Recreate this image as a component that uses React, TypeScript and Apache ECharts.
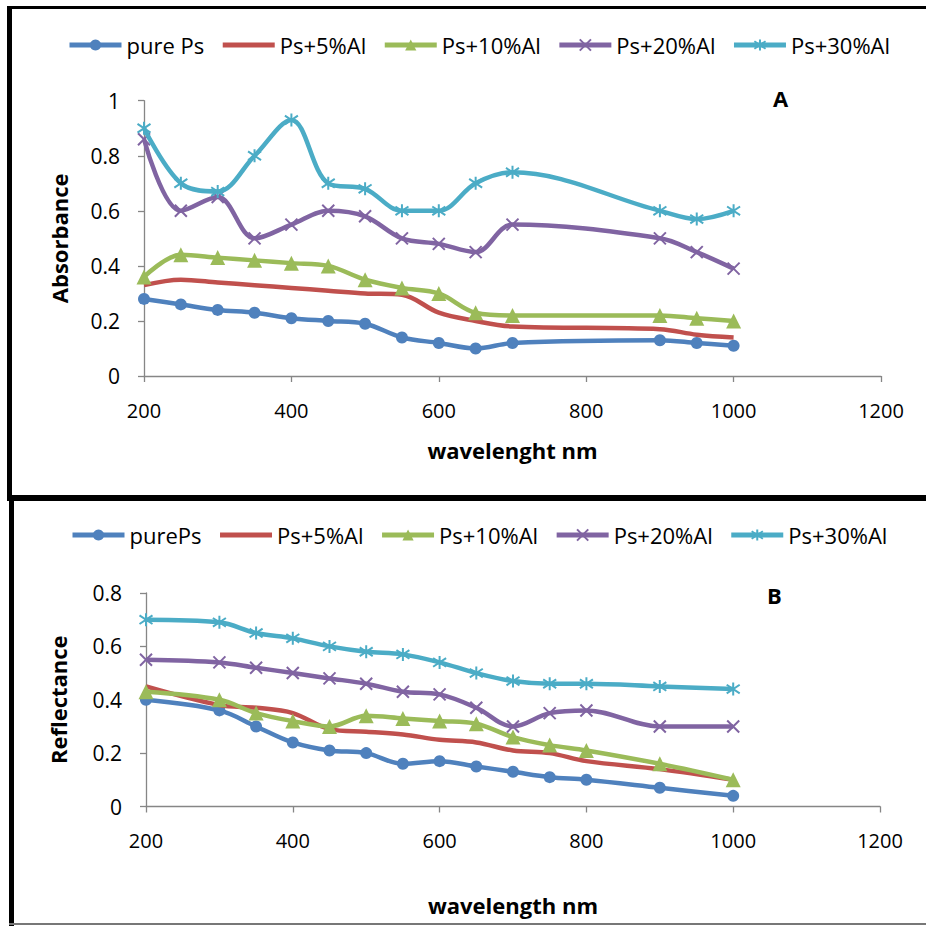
import React, { useEffect, useRef } from "react";
import * as echarts from "echarts";

// ---- Data (chart A: absorbance) ----
const wavelengthA = [200, 250, 300, 350, 400, 450, 500, 550, 600, 650, 700, 900, 950, 1000];
const absPurePs = [0.28, 0.26, 0.24, 0.23, 0.21, 0.2, 0.19, 0.14, 0.12, 0.1, 0.12, 0.13, 0.12, 0.11];
const absPs5Al = [0.33, 0.35, 0.34, 0.33, 0.32, 0.31, 0.3, 0.295, 0.23, 0.2, 0.18, 0.17, 0.15, 0.14];
const absPs10Al = [0.36, 0.44, 0.43, 0.42, 0.41, 0.4, 0.35, 0.32, 0.3, 0.23, 0.22, 0.22, 0.21, 0.2];
const absPs20Al = [0.86, 0.6, 0.65, 0.5, 0.55, 0.6, 0.58, 0.5, 0.48, 0.45, 0.55, 0.5, 0.45, 0.39];
const absPs30Al = [0.9, 0.7, 0.67, 0.8, 0.93, 0.7, 0.68, 0.6, 0.6, 0.7, 0.74, 0.6, 0.57, 0.6];

// ---- Data (chart B: reflectance) ----
const wavelengthB = [200, 300, 350, 400, 450, 500, 550, 600, 650, 700, 750, 800, 900, 1000];
const refPurePs = [0.4, 0.36, 0.3, 0.24, 0.21, 0.2, 0.16, 0.17, 0.15, 0.13, 0.11, 0.1, 0.07, 0.04];
const refPs5Al = [0.45, 0.38, 0.37, 0.35, 0.29, 0.28, 0.27, 0.25, 0.24, 0.21, 0.2, 0.17, 0.14, 0.1];
const refPs10Al = [0.43, 0.4, 0.35, 0.32, 0.3, 0.34, 0.33, 0.32, 0.31, 0.26, 0.23, 0.21, 0.16, 0.1];
const refPs20Al = [0.55, 0.54, 0.52, 0.5, 0.48, 0.46, 0.43, 0.42, 0.37, 0.3, 0.35, 0.36, 0.3, 0.3];
const refPs30Al = [0.7, 0.69, 0.65, 0.63, 0.6, 0.58, 0.57, 0.54, 0.5, 0.47, 0.46, 0.46, 0.45, 0.44];

const namesA = ["pure Ps", "Ps+5%Al", "Ps+10%Al", "Ps+20%Al", "Ps+30%Al"];
const namesB = ["purePs", "Ps+5%Al", "Ps+10%Al", "Ps+20%Al", "Ps+30%Al"];
const xTicks = [200, 400, 600, 800, 1000, 1200];

const COLORS = ["#4F81BD", "#C0504D", "#9BBB59", "#8064A2", "#4BACC6"];
const FONT = "'Open Sans', 'Noto Sans', sans-serif";
const X_SYM = "path://M0,0L10,10M10,0L0,10";
const STAR_SYM = "path://M5,-1L5,11M0.5,1L9.5,9M9.5,1L0.5,9";

const symbolDefs = [
  { symbol: "circle", symbolSize: 12, stroke: 0, show: true },
  { symbol: "circle", symbolSize: 0, stroke: 0, show: false },
  { symbol: "triangle", symbolSize: 15, stroke: 0, show: true },
  { symbol: X_SYM, symbolSize: 12, stroke: 2, show: true },
  { symbol: STAR_SYM, symbolSize: 13, stroke: 2, show: true },
];

function pairs(xs: number[], ys: number[]) {
  return xs.map((x, i) => [x, ys[i]]);
}

function makeSeries(names: string[], xs: number[], ys: number[][], gi: number) {
  return ys.map((vals, i) => ({
    type: "line",
    name: names[i],
    xAxisIndex: gi,
    yAxisIndex: gi,
    data: pairs(xs, vals),
    smooth: 0.35,
    symbol: symbolDefs[i].symbol,
    symbolSize: symbolDefs[i].symbolSize,
    showSymbol: symbolDefs[i].show,
    lineStyle: { color: COLORS[i], width: 4.5 },
    itemStyle: {
      color: COLORS[i],
      borderColor: COLORS[i],
      borderWidth: symbolDefs[i].stroke,
    },
    z: 2 + i,
  }));
}

function legendData(names: string[]) {
  return names.map((n, i) =>
    symbolDefs[i].show ? { name: n } : { name: n, itemStyle: { opacity: 0 } }
  );
}

function xAxis(gi: number, name: string, nameGap: number) {
  return {
    type: "value",
    gridIndex: gi,
    min: 200,
    max: 1200,
    interval: 200,
    name,
    nameLocation: "middle",
    nameGap,
    nameTextStyle: { fontFamily: FONT, fontSize: 22, fontWeight: "bold", color: "#000" },
    axisLine: { show: true, lineStyle: { color: "#868686", width: 1.3 } },
    axisTick: { show: true, length: 6, lineStyle: { color: "#868686", width: 1.3 } },
    axisLabel: {
      margin: 24,
      fontFamily: FONT,
      fontSize: 20,
      color: "#000",
      formatter: (v: number) => (xTicks.includes(v) ? String(v) : ""),
    },
    splitLine: { show: false },
  };
}

function yAxis(gi: number, name: string, max: number, nameGap: number) {
  return {
    type: "value",
    gridIndex: gi,
    min: 0,
    max,
    interval: 0.2,
    name,
    nameLocation: "middle",
    nameGap,
    nameTextStyle: { fontFamily: FONT, fontSize: 22, fontWeight: "bold", color: "#000" },
    axisLine: { show: true, lineStyle: { color: "#868686", width: 1.3 } },
    axisTick: { show: true, length: 6, lineStyle: { color: "#868686", width: 1.3 } },
    axisLabel: {
      margin: 24,
      fontFamily: FONT,
      fontSize: 21,
      color: "#000",
      formatter: (v: number) => String(Math.round(v * 10) / 10),
    },
    splitLine: { show: false },
  };
}

export default function App() {
  const ref = useRef<HTMLDivElement>(null);
  useEffect(() => {
    if (!ref.current) return;
    const chart = echarts.init(ref.current, undefined, { renderer: "svg" });
    const legendCommon = {
      orient: "horizontal",
      itemWidth: 52,
      itemHeight: 14,
      itemGap: 16,
      lineStyle: { width: 5 },
      textStyle: { fontFamily: FONT, fontSize: 22, color: "#000" },
    };
    chart.setOption({
      animation: false,
      backgroundColor: "#fff",
      grid: [
        { left: 144, right: 45, top: 100.7, bottom: 550 },
        { left: 146, right: 46, top: 593, bottom: 119.5 },
      ],
      legend: [
        { ...legendCommon, left: 62, top: 29, data: legendData(namesA) },
        { ...legendCommon, left: 65, top: 519, data: legendData(namesB) },
      ],
      xAxis: [xAxis(0, "wavelenght nm", 63), xAxis(1, "wavelength nm", 87)],
      yAxis: [yAxis(0, "Absorbance", 1, 74), yAxis(1, "Reflectance", 0.8, 77)],
      series: [
        ...makeSeries(namesA, wavelengthA, [absPurePs, absPs5Al, absPs10Al, absPs20Al, absPs30Al], 0),
        ...makeSeries(namesB, wavelengthB, [refPurePs, refPs5Al, refPs10Al, refPs20Al, refPs30Al], 1),
      ],
      graphic: [
        { type: "rect", shape: { x: 7, y: 6, width: 919, height: 3 }, style: { fill: "#000" } },
        { type: "rect", shape: { x: 7, y: 6, width: 5, height: 490 }, style: { fill: "#000" } },
        { type: "rect", shape: { x: 7, y: 495, width: 919, height: 6 }, style: { fill: "#000" } },
        { type: "rect", shape: { x: 9, y: 495, width: 5, height: 431 }, style: { fill: "#000" } },
        { type: "rect", shape: { x: 9, y: 923, width: 917, height: 2 }, style: { fill: "#777" } },
        {
          type: "text",
          x: 773,
          y: 87,
          style: { text: "A", font: `bold 22px ${FONT}`, fill: "#000" },
        },
        {
          type: "text",
          x: 767,
          y: 584,
          style: { text: "B", font: `bold 22px ${FONT}`, fill: "#000" },
        },
      ],
    });
    return () => chart.dispose();
  }, []);
  return (
    <div
      ref={ref}
      style={{ position: "absolute", left: 0, top: 0, width: 926, height: 926 }}
    />
  );
}
